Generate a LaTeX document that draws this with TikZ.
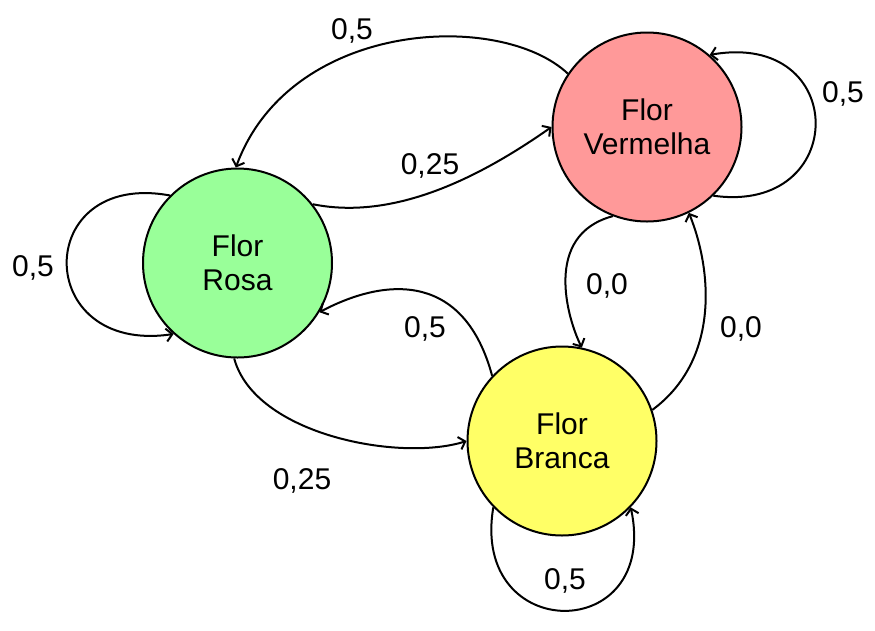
\documentclass[tikz,border=0pt]{standalone}
\usepackage{fontspec}
\setmainfont{Liberation Sans}
\usetikzlibrary{arrows.meta}
\definecolor{vermelha}{RGB}{255,153,153}
\definecolor{rosa}{RGB}{153,255,153}
\definecolor{branca}{RGB}{255,255,102}
\begin{document}
\begin{tikzpicture}[x=1pt,y=-1pt,
  state/.style={circle, draw=black, line width=2pt, minimum size=189pt, inner sep=0pt,
    align=center, font=\fontsize{30}{34}\selectfont},
  lbl/.style={font=\fontsize{30}{34}\selectfont, inner sep=0pt},
  edge/.style={line width=2pt, -{Straight Barb[length=6pt,width=13pt]}}]
\useasboundingbox (0,0) rectangle (875,630);
\node[state, fill=vermelha] (V) at (647,127) {Flor\\Vermelha};
\node[state, fill=rosa] (R) at (237.5,263) {Flor\\Rosa};
\node[state, fill=branca] (B) at (562,441) {Flor\\Branca};

% V -> R (top)
\draw[edge] (V.146) .. controls (500,10) and (290,20) .. (R.91);
% R -> V
\draw[edge] (R.38) .. controls (400,222) and (490,170) .. (V.180);
% V self loop
\draw[edge] (V.-46) .. controls (850,215) and (850,30) .. (V.49);
% R self loop
\draw[edge] (R.135) .. controls (32,170) and (32,355) .. (R.-132);
% B -> R
\draw[edge] (B.137) .. controls (465,275) and (390,275) .. (R.-31);
% R -> B
\draw[edge] (R.268) .. controls (255,435) and (400,462) .. (B.180);
% V -> B
\draw[edge] (V.249) .. controls (542,235) and (568,320) .. (B.78);
% B -> V
\draw[edge] (B.19) .. controls (720,360) and (712,270) .. (V.-64);
% B self loop
\draw[edge] (B.224) .. controls (470,645) and (660,645) .. (B.-44);

\node[lbl] (l1) at (352,31) {0,5};
\node[lbl] (l2) at (430,166) {0,25};
\node[lbl] (l3) at (843,94) {0,5};
\node[lbl] (l4) at (33,268) {0,5};
\node[lbl] (l5) at (425,329) {0,5};
\node[lbl] (l6) at (302,481) {0,25};
\node[lbl] (l7) at (607,286) {0,0};
\node[lbl] (l8) at (741,329) {0,0};
\node[lbl] (l9) at (565,581) {0,5};
\end{tikzpicture}
\end{document}
